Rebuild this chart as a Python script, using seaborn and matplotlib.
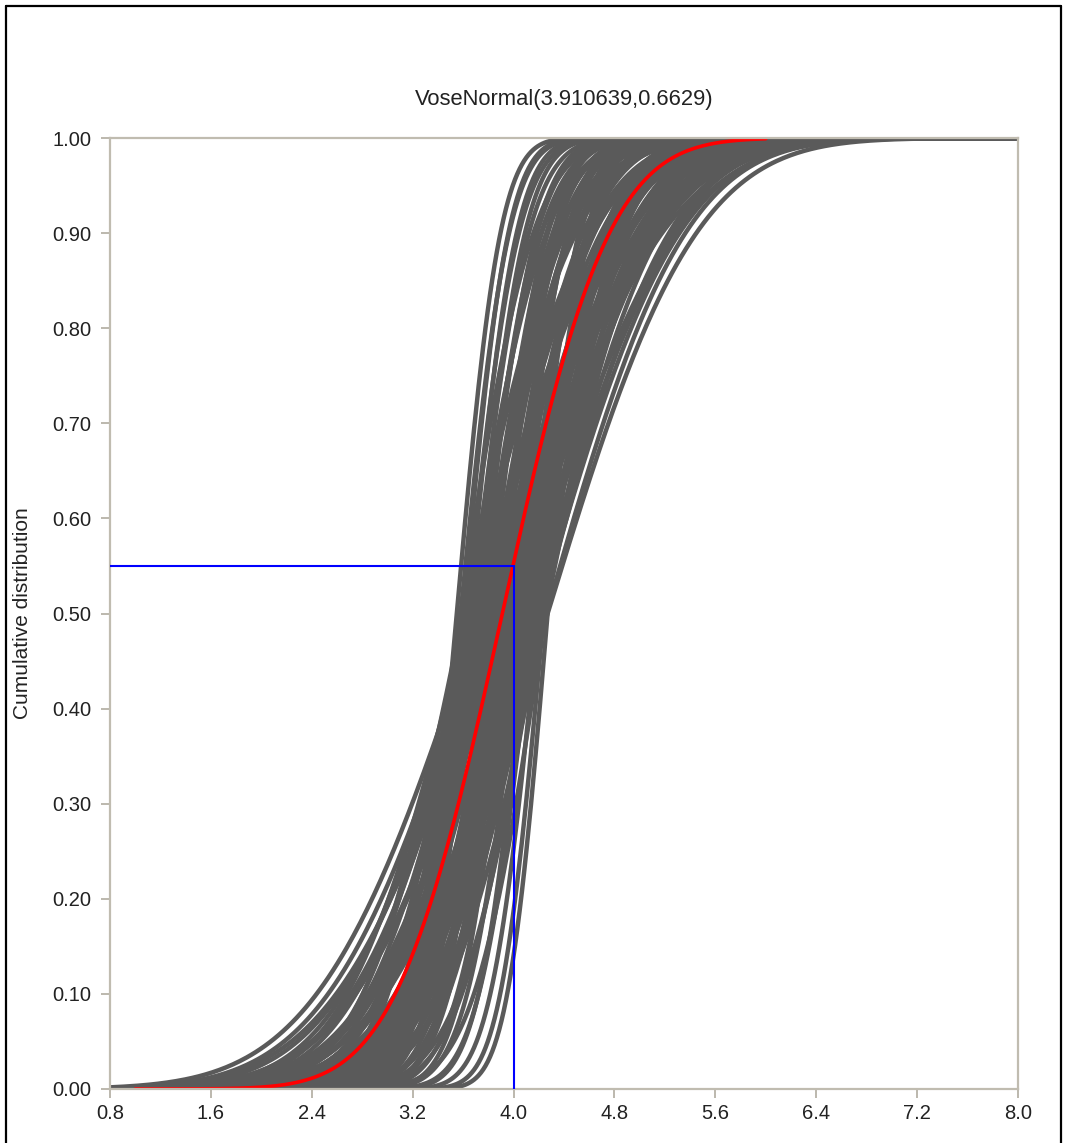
import math
import numpy as np
import pandas as pd
import matplotlib
matplotlib.use("Agg")
import matplotlib.pyplot as plt
from matplotlib.lines import Line2D
import seaborn as sns

# ---- data ----
title_text = "VoseNormal(3.910639,0.6629)"
y_label = "Cumulative distribution"
fitted_mean = 3.910639
fitted_sd = 0.6629
fitted_range = [1.0, 6.0]

# uncertainty curves: mean and sd of each grey normal CDF (estimated)
curve_means = [
    3.55, 3.58, 3.60, 3.62, 3.64, 3.66, 3.68, 3.70, 3.73, 3.76, 3.80, 3.84,
    3.88, 3.92, 3.96, 4.00, 4.04, 4.08, 4.12, 4.16, 4.20, 4.24, 4.27,
    3.58, 3.62, 3.66, 3.70, 3.74, 3.78, 3.82, 3.86, 3.90, 3.94, 3.98, 4.02,
    4.06, 4.10, 4.14, 4.18, 4.22, 4.25,
    3.60, 3.65, 3.70, 3.74, 3.78, 3.82, 3.86, 3.89, 3.92, 3.95, 3.98, 4.01,
    4.05, 4.09, 4.13, 4.17, 4.21, 4.25,
    3.64, 3.70, 3.75, 3.80, 3.85, 3.90, 3.94, 3.98, 4.02, 4.06, 4.10, 4.14,
    4.18, 4.22, 4.26,
    3.72, 3.76, 3.80, 3.85, 3.90, 3.96, 4.02, 4.08, 4.14, 4.20, 4.27,
    4.05, 4.12, 4.18, 4.08, 4.15, 4.20, 4.00, 3.96, 4.22, 4.10,
    3.68, 3.72, 3.76, 3.80, 3.84,
]
curve_sds = [
    0.27, 0.30, 0.28, 0.33, 0.30, 0.36, 0.32, 0.38, 0.35, 0.40, 0.36, 0.39,
    0.34, 0.40, 0.37, 0.33, 0.38, 0.35, 0.31, 0.34, 0.30, 0.27, 0.25,
    0.45, 0.50, 0.44, 0.55, 0.48, 0.52, 0.57, 0.46, 0.54, 0.50, 0.58, 0.44,
    0.53, 0.48, 0.56, 0.46, 0.51, 0.44,
    0.62, 0.66, 0.60, 0.70, 0.64, 0.68, 0.61, 0.72, 0.65, 0.69, 0.63, 0.71,
    0.66, 0.60, 0.70, 0.64, 0.68, 0.62,
    0.75, 0.82, 0.78, 0.85, 0.74, 0.80, 0.86, 0.77, 0.83, 0.73, 0.81, 0.76,
    0.84, 0.79, 0.86,
    1.00, 0.96, 0.92, 0.98, 0.90, 0.95, 0.88, 0.93, 0.90, 0.87, 0.92,
    0.60, 0.62, 0.58, 0.66, 0.72, 0.75, 0.55, 0.62, 0.64, 0.78,
    0.42, 0.46, 0.44, 0.50, 0.42,
]
x_ticks = [0.8, 1.6, 2.4, 3.2, 4.0, 4.8, 5.6, 6.4, 7.2, 8.0]
y_ticks = [0.0, 0.1, 0.2, 0.3, 0.4, 0.5, 0.6, 0.7, 0.8, 0.9, 1.0]
marker_x = 4.0
marker_p = 0.55

erf = np.frompyfunc(math.erf, 1, 1)


def ncdf(x, m, s):
    return 0.5 * (1.0 + erf((x - m) / (s * math.sqrt(2.0))).astype(float))


grid = np.linspace(x_ticks[0], x_ticks[-1], 400)
rows = []
for i, (m, s) in enumerate(zip(curve_means, curve_sds)):
    rows.append(pd.DataFrame({"x": grid, "p": ncdf(grid, m, s), "id": i}))
grey_df = pd.concat(rows, ignore_index=True)

xr = np.linspace(fitted_range[0], fitted_range[1], 300)
red_df = pd.DataFrame({"x": xr, "p": ncdf(xr, fitted_mean, fitted_sd)})

# ---- drawing ----
sns.set_theme(style="white")
plt.rcParams["font.family"] = ["Liberation Sans", "DejaVu Sans"]

W, H = 1067, 1143
fig = plt.figure(figsize=(W / 100, H / 100), dpi=100)
ax = fig.add_axes([110 / W, (H - 1089) / H, (1018 - 110) / W, (1089 - 138) / H])

sns.lineplot(data=grey_df, x="x", y="p", units="id", estimator=None,
             color="#5a5a5a", linewidth=3.2, ax=ax, legend=False)
sns.lineplot(data=red_df, x="x", y="p", color="#ff0000", linewidth=2.6,
             ax=ax, legend=False)

ax.plot([x_ticks[0], marker_x], [marker_p, marker_p], color="#0000ff", lw=1.5, zorder=5)
ax.plot([marker_x, marker_x], [0, marker_p], color="#0000ff", lw=1.5, zorder=5)

ax.set_xlim(x_ticks[0], x_ticks[-1])
ax.set_ylim(0, 1)
ax.set_xticks(x_ticks)
ax.set_xticklabels([f"{v:.1f}" for v in x_ticks])
ax.set_yticks(y_ticks)
ax.set_yticklabels([f"{v:.2f}" for v in y_ticks])
ax.tick_params(axis="both", which="major", bottom=True, left=True,
               direction="out", length=6.5, width=1.2,
               color="#b0aca0", labelsize=14.5, labelcolor="#222222")
ax.tick_params(axis="y", pad=7)
ax.tick_params(axis="x", pad=4)
ax.set_xlabel("")
ax.set_ylabel(y_label, fontsize=15, color="#222222")
ax.yaxis.set_label_coords(-(110 - 32) / (1018 - 110), 0.5)
for sp in ax.spines.values():
    sp.set_color("#c0bcb0")
    sp.set_linewidth(1.6)
ax.set_title(title_text, fontsize=15.8, color="#222222", pad=24)

# outer frame of the picture
fig.add_artist(Line2D([6 / W, 6 / W], [0, 1 - 6 / H], color="black", lw=1.6))
fig.add_artist(Line2D([6 / W, 1061 / W], [1 - 6 / H, 1 - 6 / H], color="black", lw=1.6))
fig.add_artist(Line2D([1061 / W, 1061 / W], [0, 1 - 6 / H], color="black", lw=1.6))

fig.savefig("out.png", dpi=100, facecolor="white")
